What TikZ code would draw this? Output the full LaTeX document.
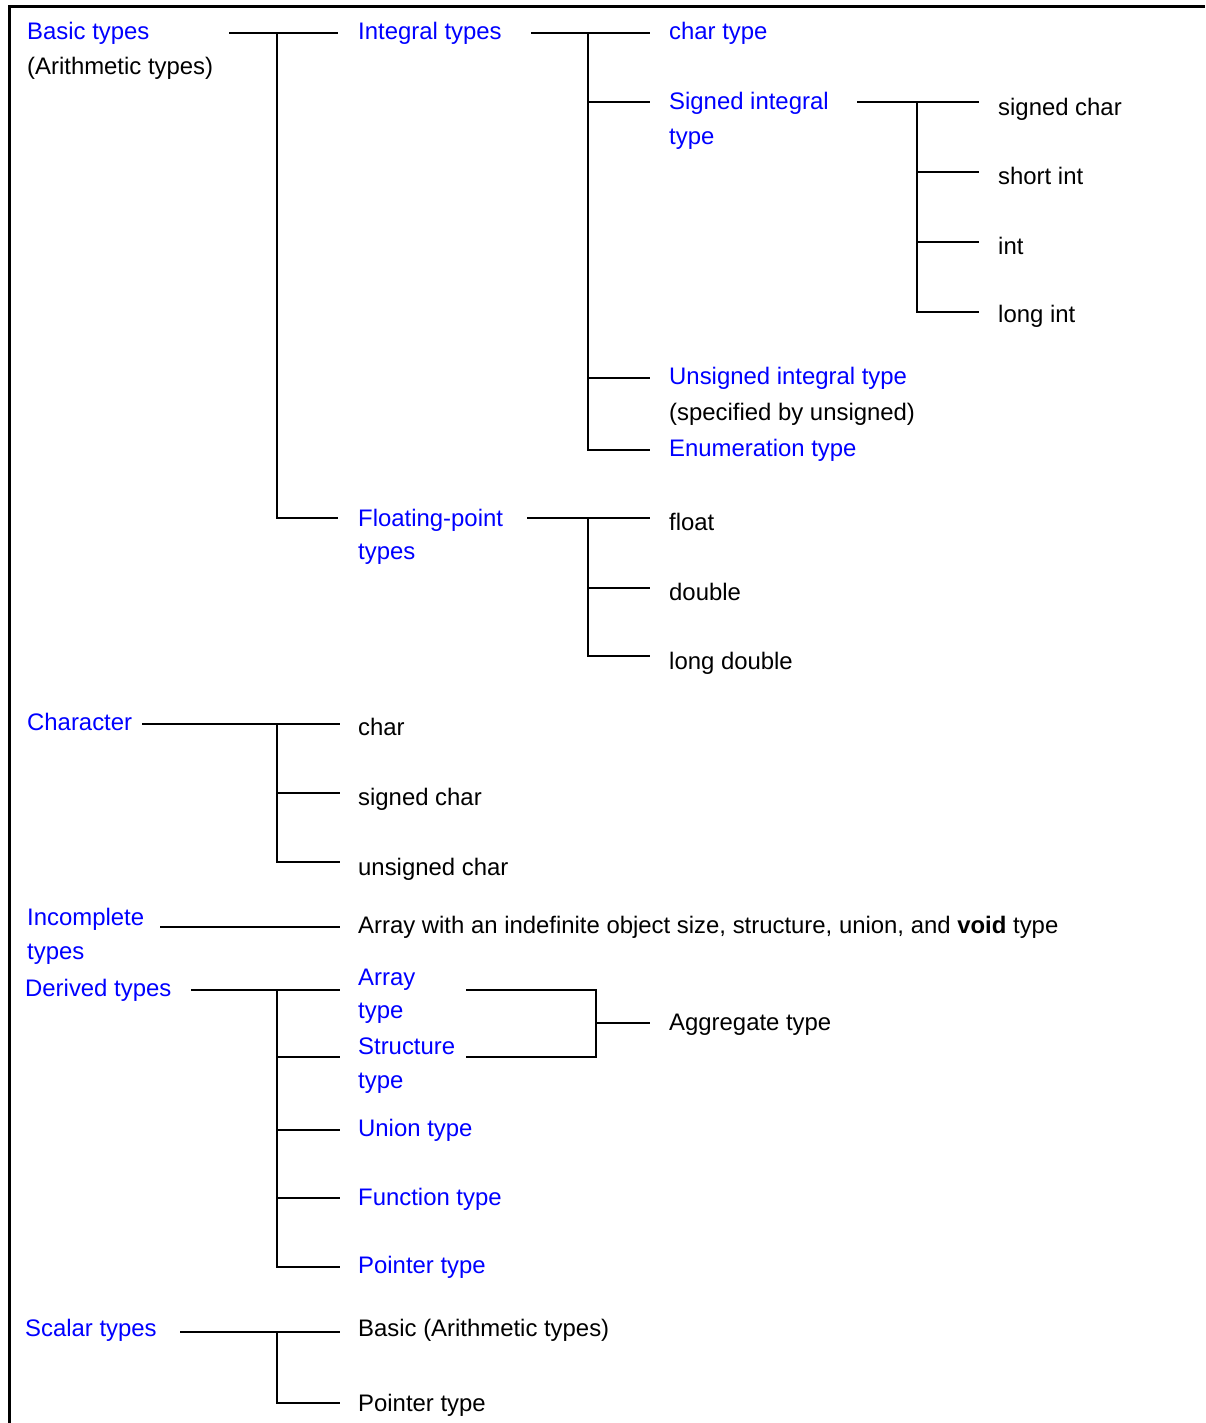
\documentclass[tikz,border=0pt]{standalone}
\usepackage{fontspec}
\setmainfont{Liberation Sans}
\usepackage{tikz}

\tikzset{
  lbl/.style={anchor=base west, inner sep=0pt, yshift=-1.5pt, font=\fontsize{23.9}{35}\selectfont},
  kind/.style={lbl, text=blue},
  wire/.style={line width=2pt}
}

\begin{document}
\begin{tikzpicture}[x=1pt,y=-1pt]
  \useasboundingbox (0,0) rectangle (1205,1423);
  \draw[line width=3pt] (9.5,1423) -- (9.5,6.5) -- (1205,6.5);

  % basic types
  \node[kind] (bt) at (27,38) {Basic types};
  \node[lbl] (bta) at (27,73) {(Arithmetic types)};
  \node[kind] (it) at (358,38) {Integral types};
  \node[kind] (fp) at (358,525) {Floating-point};
  \node[kind] (fpb) at (358,558) {types};
  \coordinate (bt-o) at (229,33);
  \coordinate (bt-j) at (277,33);
  \coordinate (it-l) at (338,33);
  \coordinate (fp-l) at (338,518);
  \draw[wire] (bt-o) -- (it-l);
  \draw[wire] (bt-j) |- (fp-l);

  % integral types
  \node[kind] (ct) at (669,38) {char type};
  \node[kind] (si) at (669,108) {Signed integral};
  \node[kind] (sib) at (669,143) {type};
  \node[kind] (ui) at (669,383) {Unsigned integral type};
  \node[lbl] (uib) at (669,419) {(specified by unsigned)};
  \node[kind] (en) at (669,455) {Enumeration type};
  \coordinate (it-o) at (531,33);
  \coordinate (it-j) at (588,33);
  \coordinate (ct-l) at (650,33);
  \coordinate (si-l) at (650,102);
  \coordinate (ui-l) at (650,378);
  \coordinate (en-l) at (650,450);
  \draw[wire] (it-o) -- (ct-l);
  \draw[wire] (it-j) |- (en-l);
  \draw[wire] (it-j |- si-l) -- (si-l);
  \draw[wire] (it-j |- ui-l) -- (ui-l);

  % signed integral type
  \node[lbl] (sc) at (998,114) {signed char};
  \node[lbl] (shi) at (998,183) {short int};
  \node[lbl] (in) at (998,253) {int};
  \node[lbl] (li) at (998,321) {long int};
  \coordinate (si-o) at (857,102);
  \coordinate (si-j) at (917,102);
  \coordinate (sc-l) at (979,102);
  \coordinate (shi-l) at (979,172);
  \coordinate (in-l) at (979,242);
  \coordinate (li-l) at (979,312);
  \draw[wire] (si-o) -- (sc-l);
  \draw[wire] (si-j) |- (li-l);
  \draw[wire] (si-j |- shi-l) -- (shi-l);
  \draw[wire] (si-j |- in-l) -- (in-l);

  % floating-point types
  \node[lbl] (fl) at (669,529) {float};
  \node[lbl] (db) at (669,599) {double};
  \node[lbl] (ld) at (669,668) {long double};
  \coordinate (fp-o) at (527,518);
  \coordinate (fp-j) at (588,518);
  \coordinate (fl-l) at (650,518);
  \coordinate (db-l) at (650,588);
  \coordinate (ld-l) at (650,656);
  \draw[wire] (fp-o) -- (fl-l);
  \draw[wire] (fp-j) |- (ld-l);
  \draw[wire] (fp-j |- db-l) -- (db-l);

  % character
  \node[kind] (ch) at (27,729) {Character};
  \node[lbl] (c1) at (358,734) {char};
  \node[lbl] (c2) at (358,804) {signed char};
  \node[lbl] (c3) at (358,874) {unsigned char};
  \coordinate (ch-o) at (142,724);
  \coordinate (ch-j) at (277,724);
  \coordinate (c1-l) at (340,724);
  \coordinate (c2-l) at (340,793);
  \coordinate (c3-l) at (340,862);
  \draw[wire] (ch-o) -- (c1-l);
  \draw[wire] (ch-j) |- (c3-l);
  \draw[wire] (ch-j |- c2-l) -- (c2-l);

  % incomplete types
  \node[kind] (ic) at (27,924) {Incomplete};
  \node[kind] (icb) at (27,958) {types};
  \node[lbl] (ia) at (358,932) {Array with an indefinite object size, structure, union, and \textbf{void} type};
  \coordinate (ic-o) at (160,927);
  \coordinate (ia-l) at (340,927);
  \draw[wire] (ic-o) -- (ia-l);

  % derived types
  \node[kind] (dt) at (25,995) {Derived types};
  \node[kind] (ar) at (358,984) {Array};
  \node[kind] (arb) at (358,1017) {type};
  \node[kind] (st) at (358,1053) {Structure};
  \node[kind] (stb) at (358,1087) {type};
  \node[kind] (un) at (358,1135) {Union type};
  \node[kind] (fn) at (358,1204) {Function type};
  \node[kind] (pt) at (358,1272) {Pointer type};
  \node[lbl] (ag) at (669,1029) {Aggregate type};
  \coordinate (dt-o) at (191,990);
  \coordinate (dt-j) at (277,990);
  \coordinate (ar-l) at (340,990);
  \coordinate (st-l) at (340,1057);
  \coordinate (un-l) at (340,1130);
  \coordinate (fn-l) at (340,1198);
  \coordinate (pt-l) at (340,1267);
  \draw[wire] (dt-o) -- (ar-l);
  \draw[wire] (dt-j) |- (pt-l);
  \draw[wire] (dt-j |- st-l) -- (st-l);
  \draw[wire] (dt-j |- un-l) -- (un-l);
  \draw[wire] (dt-j |- fn-l) -- (fn-l);

  % aggregate type
  \coordinate (ar-r) at (466,990);
  \coordinate (st-r) at (466,1057);
  \coordinate (ag-j) at (596,1023);
  \coordinate (ag-l) at (650,1023);
  \draw[wire] (ar-r) -| (ag-j |- st-r) -- (st-r);
  \draw[wire] (ag-j) -- (ag-l);

  % scalar types
  \node[kind] (sct) at (25,1335) {Scalar types};
  \node[lbl] (sb) at (358,1335) {Basic (Arithmetic types)};
  \node[lbl] (sp) at (358,1410) {Pointer type};
  \coordinate (sct-o) at (180,1332);
  \coordinate (sct-j) at (277,1332);
  \coordinate (sb-l) at (340,1332);
  \coordinate (sp-l) at (340,1403);
  \draw[wire] (sct-o) -- (sb-l);
  \draw[wire] (sct-j) |- (sp-l);
\end{tikzpicture}
\end{document}
